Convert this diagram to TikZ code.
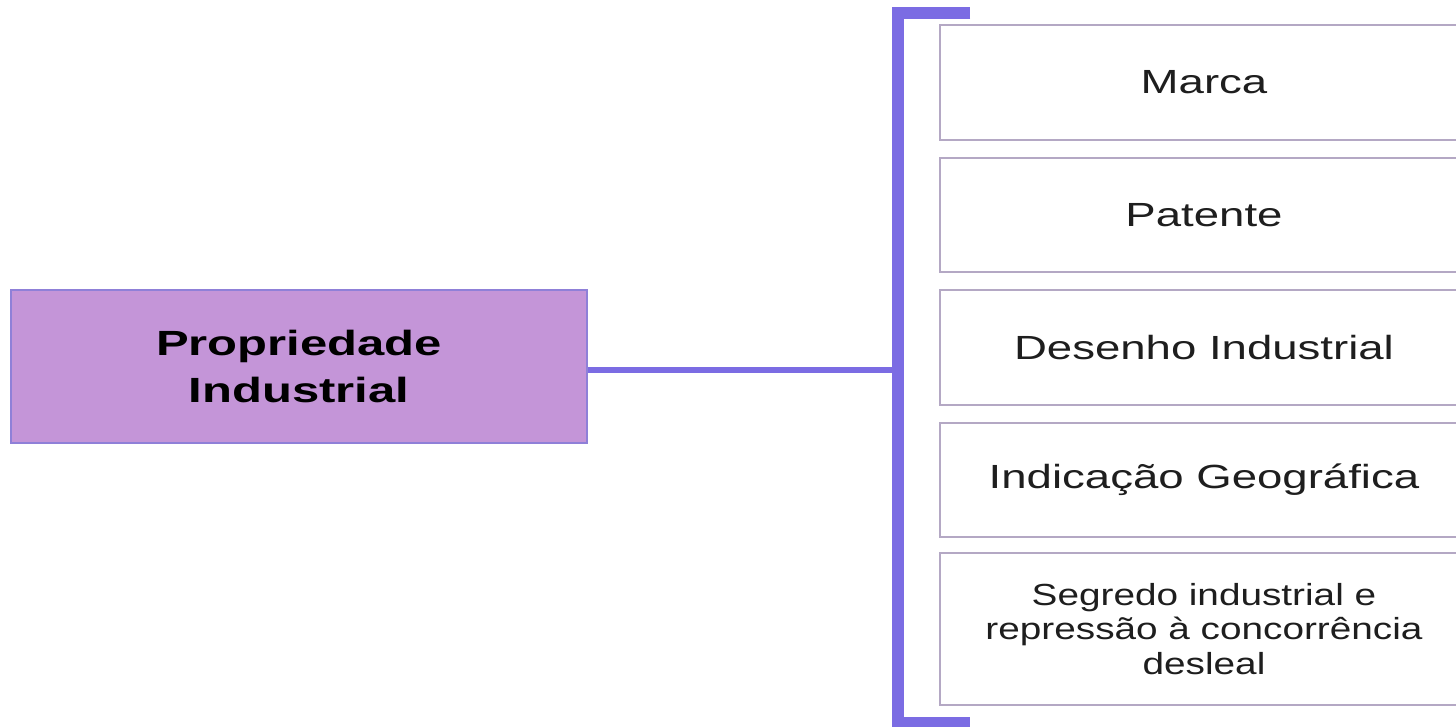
\documentclass[tikz,border=0pt]{standalone}
\usepackage{fontspec}
\setmainfont{Liberation Sans}
\newfontfamily\boxfont[FakeStretch=1.36]{Liberation Sans}
\newfontfamily\smallboxfont[FakeStretch=1.27]{Liberation Sans}
\newfontfamily\mainboxfont[FakeStretch=1.4]{Liberation Sans}
\definecolor{bracketcol}{HTML}{7B6CE3}
\definecolor{leftfill}{HTML}{C495D8}
\definecolor{leftdraw}{HTML}{8F80D8}
\definecolor{itemdraw}{HTML}{B4A8C4}
\definecolor{txt}{HTML}{1E1E1E}
\tikzset{
  itembox/.style={draw=itemdraw, line width=1.6pt, fill=white, minimum width=528pt,
    inner sep=0pt, align=center, text=txt, font=\boxfont\fontsize{33.5}{40}\selectfont},
  mainbox/.style={draw=leftdraw, line width=1.6pt, fill=leftfill, minimum width=576pt,
    minimum height=153pt, inner sep=0pt, align=center, text=black,
    font=\mainboxfont\bfseries\fontsize{35}{47}\selectfont},
  link/.style={draw=bracketcol, line width=6pt},
  bracketline/.style={draw=bracketcol, line width=12pt, line join=miter}
}
\begin{document}
\begin{tikzpicture}[x=1pt,y=-1pt]
\useasboundingbox (0,0) rectangle (1456,727);
\fill[white] (0,0) rectangle (1456,727);
\node[mainbox] (main) at (299,366.5) {Propriedade\\Industrial};
\node[itembox, minimum height=115pt] (marca) at (1204,82.5) {Marca};
\node[itembox, minimum height=114pt] (patente) at (1204,215) {Patente};
\node[itembox, minimum height=115pt] (desenho) at (1204,347.5) {Desenho Industrial};
\node[itembox, minimum height=114pt] (indicacao) at (1204,480) {Indicação Geográfica};
\node[itembox, minimum height=152pt, font=\smallboxfont\fontsize{30.5}{34.5}\selectfont] (segredo) at (1204,629) {Segredo industrial e\\repressão à concorrência\\desleal};
\coordinate (bk) at (898,370);
\coordinate (btop) at (970,13);
\coordinate (bbot) at (970,723);
\draw[link] (main.east |- bk) -- (bk);
\draw[bracketline] (btop) -| (bk) |- (bbot);
\end{tikzpicture}
\end{document}
